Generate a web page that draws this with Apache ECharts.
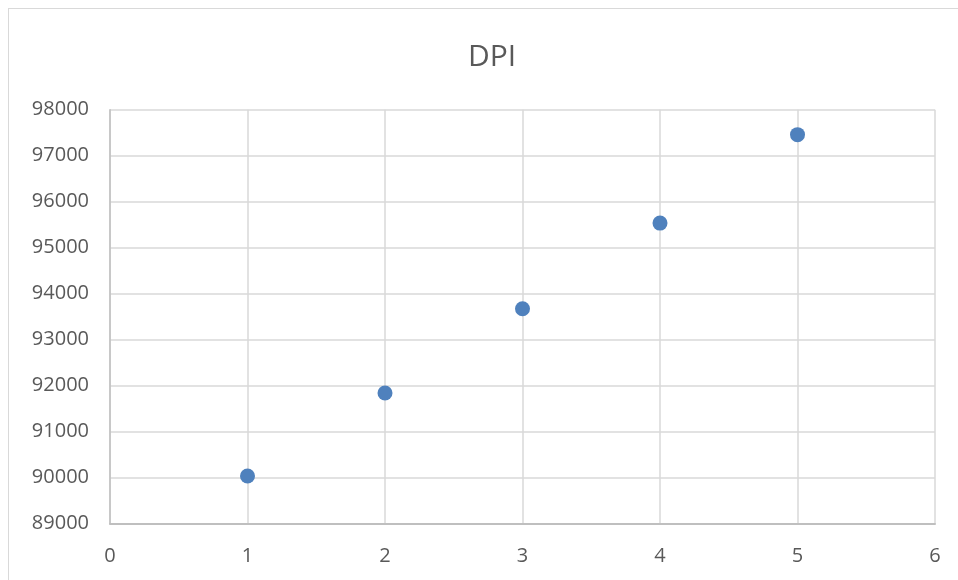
<!DOCTYPE html>
<html>
<head>
<meta charset="utf-8">
<script src="https://cdn.jsdelivr.net/npm/echarts@6/dist/echarts.min.js"></script>
<style>
  html, body { margin: 0; padding: 0; background: #ffffff; overflow: hidden; }
  #frame { position: absolute; left: 8px; top: 8px; width: 960px; height: 580px;
           border: 1.5px solid #d9d9d9; box-sizing: border-box; }
  #chart { position: absolute; left: 0; top: 0; width: 958px; height: 580px; }
</style>
</head>
<body>
<div id="frame"></div>
<div id="chart"></div>
<script>
// DPI by period
const titleText = 'DPI';
const periods = [1, 2, 3, 4, 5];
const dpiValues = [90037, 91841, 93674, 95535, 97457];

const xMin = 0, xMax = 6, xStep = 1;
const yMin = 89000, yMax = 98000, yStep = 1000;

const points = periods.map((p, i) => [p, dpiValues[i]]);

const textColor = '#595959';
const fontFamily = '"Open Sans", "Liberation Sans", sans-serif';

const chart = echarts.init(document.getElementById('chart'), null, { renderer: 'canvas' });
chart.setOption({
  animation: false,
  backgroundColor: 'transparent',
  title: {
    text: titleText,
    left: 463,
    top: 37,
    textStyle: { color: textColor, fontSize: 30, fontWeight: 'normal', fontFamily: fontFamily }
  },
  grid: { left: 110, right: 23, top: 109.7, bottom: 56.3, containLabel: false },
  xAxis: {
    type: 'value',
    min: xMin, max: xMax, interval: xStep,
    axisLine: { show: true, lineStyle: { color: '#bfbfbf', width: 2 } },
    axisTick: { show: false },
    splitLine: { show: true, lineStyle: { color: '#d9d9d9', width: 1.5 } },
    axisLabel: { color: textColor, fontSize: 20, fontFamily: fontFamily, margin: 23,
                 formatter: v => String(v) }
  },
  yAxis: {
    type: 'value',
    min: yMin, max: yMax, interval: yStep,
    axisLine: { show: true, lineStyle: { color: '#bfbfbf', width: 1.5 } },
    axisTick: { show: false },
    splitLine: { show: true, lineStyle: { color: '#d9d9d9', width: 1.5 } },
    axisLabel: { color: textColor, fontSize: 20, fontFamily: fontFamily, margin: 21,
                 formatter: v => String(v) }
  },
  series: [{
    type: 'scatter',
    data: points,
    symbol: 'circle',
    symbolSize: 15,
    itemStyle: { color: '#4f81bd', opacity: 1 }
  }]
});
</script>
</body>
</html>
